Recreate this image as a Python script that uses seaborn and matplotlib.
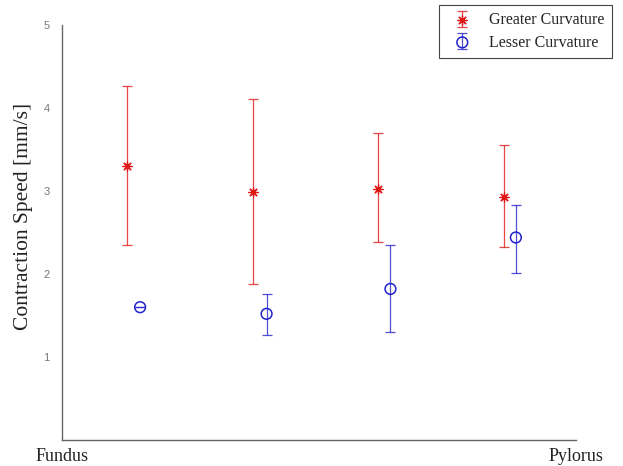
import matplotlib
matplotlib.use("Agg")
import matplotlib.pyplot as plt
import seaborn as sns
import numpy as np
import pandas as pd

# ---- data ----
greater_pos = [0.127, 0.371, 0.615, 0.859]
greater_mean = [3.30, 2.99, 3.03, 2.93]
greater_low = [2.35, 1.88, 2.39, 2.33]
greater_high = [4.27, 4.11, 3.70, 3.55]

lesser_pos = [0.152, 0.398, 0.639, 0.883]
lesser_mean = [1.60, 1.52, 1.82, 2.44]
lesser_low = [1.60, 1.27, 1.30, 2.01]
lesser_high = [1.60, 1.76, 2.35, 2.83]

x_ticks = [0, 1]
x_labels = ["Fundus", "Pylorus"]
y_ticks = [1, 2, 3, 4, 5]
labels = ["Greater Curvature", "Lesser Curvature"]

sns.set_style("white")
plt.rcParams["font.family"] = ["Liberation Serif", "DejaVu Serif"]

fig = plt.figure(figsize=(6.23, 4.66), dpi=100)
ax = fig.add_axes([62 / 623, 1 - 440 / 466, (576 - 62) / 623, (440 - 25) / 466])

red = "#e01818"
blue = "#2222cc"

g_mean = np.array(greater_mean)
g_err = [g_mean - np.array(greater_low), np.array(greater_high) - g_mean]
l_mean = np.array(lesser_mean)
l_err = [l_mean - np.array(lesser_low), np.array(lesser_high) - l_mean]

eb1 = ax.errorbar(greater_pos, greater_mean, yerr=g_err, fmt="none", ecolor=red,
                  elinewidth=0.9, capsize=3.3, capthick=0.9, alpha=0.8)
eb2 = ax.errorbar(lesser_pos, lesser_mean, yerr=l_err, fmt="none", ecolor=blue,
                  elinewidth=0.9, capsize=3.3, capthick=0.9, alpha=0.8)

dg = pd.DataFrame({"pos": greater_pos, "speed": greater_mean})
dl = pd.DataFrame({"pos": lesser_pos, "speed": lesser_mean})
sns.scatterplot(data=dg, x="pos", y="speed", marker=(8, 2, 0), s=45,
                color=red, edgecolor=red, linewidth=0.9, ax=ax, zorder=3)
sns.scatterplot(data=dl, x="pos", y="speed", marker="o", s=60,
                facecolors="none", edgecolor=blue, linewidth=1.1, ax=ax, zorder=3)
sc1 = ax.collections[-2]
sc2 = ax.collections[-1]

ax.set_xlim(0, 1)
ax.set_ylim(0, 5)
ax.set_xticks(x_ticks)
ax.set_xticklabels(x_labels, fontsize=13, color="#222222")
ax.set_yticks(y_ticks)
ax.set_yticklabels([str(t) for t in y_ticks], fontsize=8,
                   family=["Liberation Sans", "DejaVu Sans"], color="#777777")
ax.tick_params(axis="y", direction="in", length=3, width=0.8, color="#555555", pad=9)
ax.tick_params(axis="x", direction="in", length=4, width=0.8, color="#555555", pad=6)
ax.set_xlabel("")
ax.set_ylabel("Contraction Speed [mm/s]", fontsize=15.5, color="#222222")
ax.yaxis.set_label_coords(-0.056, (440 - 216) / 415)

for s in ["top", "right"]:
    ax.spines[s].set_visible(False)
for s in ["left", "bottom"]:
    ax.spines[s].set_color("#666666")
    ax.spines[s].set_linewidth(1.0)

leg = fig.legend([(eb1, sc1), (eb2, sc2)], labels,
                 loc="upper right", bbox_to_anchor=(612 / 623, 1 - 5 / 466),
                 borderaxespad=0.0,
                 fontsize=11.5, frameon=True, fancybox=False, framealpha=1,
                 edgecolor="#444444", borderpad=0.45, handlelength=2.0,
                 labelspacing=0.4, handletextpad=0.7, scatterpoints=1)
leg.get_frame().set_linewidth(0.8)

fig.savefig("out.png", dpi=100)
